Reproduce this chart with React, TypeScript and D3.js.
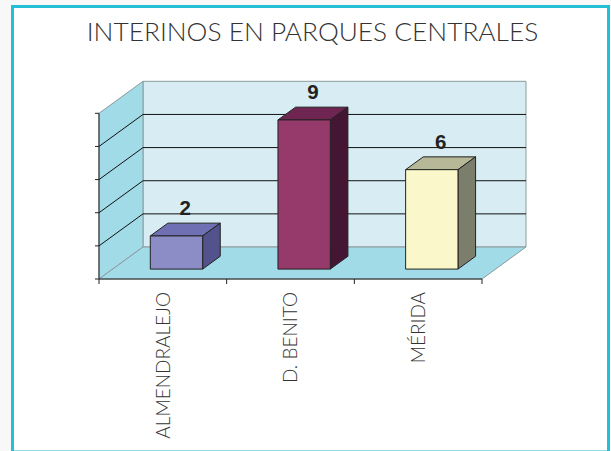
import * as d3 from "d3";

const title = "INTERINOS EN PARQUES CENTRALES";
const categories = ["ALMENDRALEJO", "D. BENITO", "MÉRIDA"];
const values = [2, 9, 6];
const yTicks = [0, 2, 4, 6, 8, 10];
const barColors = [
  { front: "#8c8cc6", top: "#6f6fb3", side: "#52528c" },
  { front: "#963a6c", top: "#6e2552", side: "#451534" },
  { front: "#faf8ca", top: "#b6b898", side: "#7c7e6c" },
];

const W = 611, H = 451;
const left = 99, right = 482, base = 279, topY = 113.3;
const DX = 44, DY = -32; // depth offset of the back wall
const z0 = 0.31, z1 = 0.71; // bar depth range

const y = d3.scaleLinear().domain([0, 10]).range([base, topY]);
const band = d3.scaleBand<string>().domain(categories).range([left, right]).paddingInner(0.59).paddingOuter(0.295);
const cat = d3.scaleBand<string>().domain(categories).range([left, right]).padding(0);

const pts = (p: [number, number][]) => p.map(q => q.join(",")).join(" ");

export default function App() {
  const wallStroke = "#8c9a9e";
  const y0 = y(0), y10 = y(10);
  return (
    <div style={{ position: "absolute", left: 0, top: 0 }}>
      <svg width={W} height={H} style={{ display: "block" }}>
        <rect x={0} y={0} width={W} height={H} fill="#f8f8f8" />
        <rect x={12.5} y={6.5} width={596} height={450} fill="#fff" stroke="#22bfd6" strokeWidth={3} />
        <line x1={14} x2={607} y1={450.5} y2={450.5} stroke="#8fdbe8" strokeWidth={1} />
        <text x={312.5} y={41} textAnchor="middle" fontFamily="Lato" fontWeight={300} fontSize={26.3} fill="#333">{title}</text>

        {/* back wall */}
        <polygon points={pts([[left + DX, y0 + DY], [right + DX, y0 + DY], [right + DX, y10 + DY], [left + DX, y10 + DY]])}
          fill="#d7edf3" stroke={wallStroke} strokeWidth={1} />
        {/* left wall */}
        <polygon points={pts([[left, y0], [left + DX, y0 + DY], [left + DX, y10 + DY], [left, y10]])}
          fill="#a0dbe7" stroke={wallStroke} strokeWidth={1} />
        {/* floor */}
        <polygon points={pts([[left, y0], [right, y0], [right + DX, y0 + DY], [left + DX, y0 + DY]])}
          fill="#a0dbe7" stroke={wallStroke} strokeWidth={1} />

        {/* gridlines */}
        {yTicks.filter(t => t > 0 && t < 10).map(t => (
          <g key={t}>
            <line x1={left} y1={y(t)} x2={left + DX} y2={y(t) + DY} stroke="#111" strokeWidth={1} />
            <line x1={left + DX} y1={y(t) + DY} x2={right + DX} y2={y(t) + DY} stroke="#111" strokeWidth={1} />
          </g>
        ))}

        {/* bars */}
        {categories.map((c, i) => {
          const v = values[i];
          const col = barColors[i];
          const xa = band(c)! + z0 * DX, xb = xa + band.bandwidth();
          const yt = y(v) + z0 * DY, yb = y(0) + z0 * DY;
          const ddx = (z1 - z0) * DX, ddy = (z1 - z0) * DY;
          return (
            <g key={c} stroke="#222" strokeWidth={1} strokeLinejoin="round">
              <polygon points={pts([[xa, yt], [xb, yt], [xb + ddx, yt + ddy], [xa + ddx, yt + ddy]])} fill={col.top} />
              <polygon points={pts([[xb, yt], [xb + ddx, yt + ddy], [xb + ddx, yb + ddy], [xb, yb]])} fill={col.side} />
              <rect x={xa} y={yt} width={xb - xa} height={yb - yt} fill={col.front} />
            </g>
          );
        })}

        {/* value labels */}
        {categories.map((c, i) => {
          const cx = band(c)! + band.bandwidth() / 2 + ((z0 + z1) / 2) * DX;
          const cy = y(values[i]) + z1 * DY - 8;
          return (
            <text key={c} x={cx} y={cy} textAnchor="middle" fontFamily="Liberation Sans, Arial" fontWeight="bold" fontSize={20.5} fill="#222">{values[i]}</text>
          );
        })}

        {/* axes */}
        <line x1={left} x2={left} y1={y0} y2={y10} stroke="#222" strokeWidth={1} />
        {yTicks.map(t => (
          <line key={t} x1={left - 4} x2={left} y1={y(t)} y2={y(t)} stroke="#222" strokeWidth={1} />
        ))}
        <line x1={left} x2={right} y1={y0} y2={y0} stroke="#222" strokeWidth={1} />
        {[...categories.map(c => cat(c)!), right].map((tx, i) => (
          <line key={i} x1={tx} x2={tx} y1={y0} y2={y0 + 5} stroke="#222" strokeWidth={1} />
        ))}
        {categories.map(c => {
          const cx = cat(c)! + cat.bandwidth() / 2;
          return (
            <text key={c} transform={`translate(${cx},292) rotate(-90)`} dy="0.36em" textAnchor="end"
              fontFamily="Lato" fontWeight={300} fontSize={19} fill="#333">{c}</text>
          );
        })}
      </svg>
    </div>
  );
}
